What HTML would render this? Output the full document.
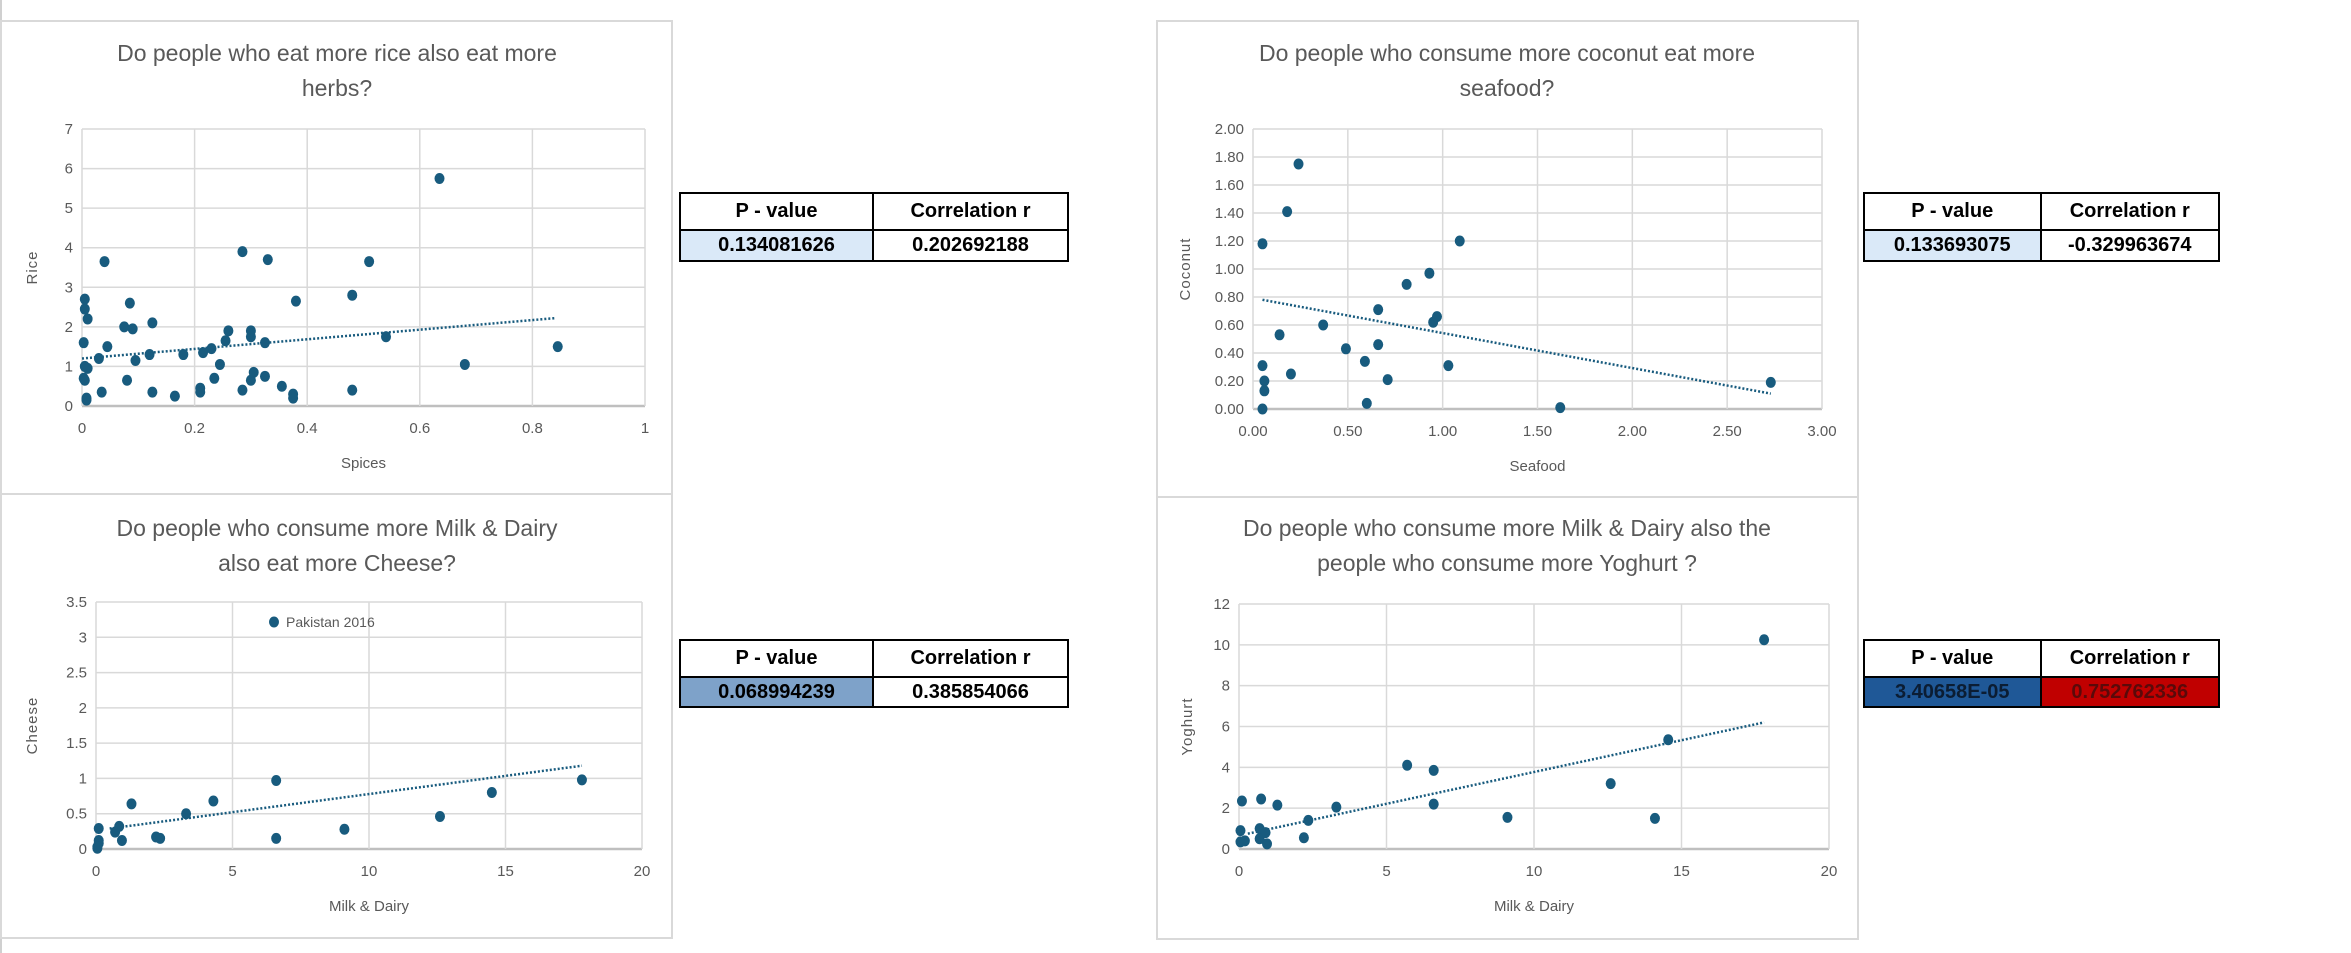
<!DOCTYPE html>
<html><head><meta charset="utf-8">
<style>
html,body{margin:0;padding:0;background:#fff;width:2351px;height:953px;overflow:hidden;font-family:"Liberation Sans",sans-serif;}
#root{position:relative;width:2351px;height:953px;}
svg{position:absolute;left:0;top:0;}
.tbl{position:absolute;border:2px solid #000;box-sizing:border-box;display:grid;grid-template-columns:50% 50%;font-weight:bold;font-size:20px;color:#000;}
.tbl div{display:flex;align-items:center;justify-content:center;box-sizing:border-box;}
.h{border-bottom:2px solid #000;}
.l{border-right:2px solid #000;}
</style></head>
<body>
<div id="root">
<svg id="svg" width="2351" height="953"></svg>

<div class="tbl" style="left:679px;top:192px;width:390px;height:70px;grid-template-rows:37px 1fr;">
<div class="h l">P - value</div><div class="h">Correlation r</div>
<div class="l" style="background:#dae9f8">0.134081626</div><div>0.202692188</div>
</div>
<div class="tbl" style="left:1863px;top:192px;width:357px;height:70px;grid-template-rows:37px 1fr;">
<div class="h l">P - value</div><div class="h">Correlation r</div>
<div class="l" style="background:#dae9f8">0.133693075</div><div>-0.329963674</div>
</div>
<div class="tbl" style="left:679px;top:639px;width:390px;height:69px;grid-template-rows:37px 1fr;">
<div class="h l">P - value</div><div class="h">Correlation r</div>
<div class="l" style="background:#7ea2c9">0.068994239</div><div>0.385854066</div>
</div>
<div class="tbl" style="left:1863px;top:639px;width:357px;height:69px;grid-template-rows:37px 1fr;">
<div class="h l">P - value</div><div class="h">Correlation r</div>
<div class="l" style="background:#1f5897;color:#0b1d33">3.40658E-05</div><div style="background:#c00000;color:#5a0a0a">0.752762336</div>
</div>
</div>
<script>
// Chart 1: Rice vs Spices
const riceSpicesX=[0.04,0.005,0.005,0.01,0.003,0.045,0.03,0.005,0.01,0.003,0.005,0.008,0.008,0.035,0.08,0.075,0.085,0.09,0.095,0.12,0.125,0.125,0.165,0.18,0.21,0.21,0.215,0.23,0.235,0.245,0.255,0.26,0.285,0.285,0.3,0.3,0.3,0.305,0.325,0.325,0.33,0.355,0.375,0.375,0.38,0.48,0.48,0.51,0.54,0.635,0.68,0.845];
const riceSpicesY=[3.65,2.7,2.45,2.2,1.6,1.5,1.2,1.0,0.95,0.7,0.65,0.2,0.15,0.35,0.65,2.0,2.6,1.95,1.15,1.3,2.1,0.35,0.25,1.3,0.45,0.35,1.35,1.45,0.7,1.05,1.65,1.9,0.4,3.9,1.9,1.75,0.65,0.85,0.75,1.6,3.7,0.5,0.3,0.2,2.65,0.4,2.8,3.65,1.75,5.75,1.05,1.5];
const riceTrendX=[0,0.84];
const riceTrendY=[1.2,2.22];
const riceXTicks=["0","0.2","0.4","0.6","0.8","1"];
const riceYTicks=["0","1","2","3","4","5","6","7"];
// Chart 2: Coconut vs Seafood
const seafoodX=[0.05,0.18,0.24,0.14,0.37,0.2,0.05,0.06,0.06,0.05,0.49,0.59,0.6,0.66,0.66,0.71,0.81,0.93,0.95,0.97,1.03,1.09,1.62,2.73];
const coconutY=[1.18,1.41,1.75,0.53,0.6,0.25,0.31,0.2,0.13,0.0,0.43,0.34,0.04,0.71,0.46,0.21,0.89,0.97,0.62,0.66,0.31,1.2,0.01,0.19];
const coconutTrendX=[0.05,2.73];
const coconutTrendY=[0.78,0.11];
const seafoodXTicks=["0.00","0.50","1.00","1.50","2.00","2.50","3.00"];
const coconutYTicks=["0.00","0.20","0.40","0.60","0.80","1.00","1.20","1.40","1.60","1.80","2.00"];
// Chart 3: Cheese vs Milk & Dairy
const milkX3=[0.1,0.1,0.1,0.05,0.05,0.7,0.85,0.95,1.3,2.2,2.35,3.3,4.3,6.6,6.6,9.1,12.6,14.5,17.8];
const cheeseY=[0.29,0.12,0.08,0.03,0.01,0.24,0.32,0.12,0.64,0.17,0.15,0.5,0.68,0.97,0.15,0.28,0.46,0.8,0.98];
const cheeseTrendX=[0.5,17.8];
const cheeseTrendY=[0.29,1.18];
const milkXTicks=["0","5","10","15","20"];
const cheeseYTicks=["0","0.5","1","1.5","2","2.5","3","3.5"];
// Chart 4: Yoghurt vs Milk & Dairy
const milkX4=[0.1,0.05,0.05,0.2,0.75,0.7,0.7,0.9,0.95,1.3,2.2,2.35,3.3,5.7,6.6,6.6,9.1,12.6,14.1,14.55,17.8];
const yoghurtY=[2.35,0.9,0.35,0.4,2.45,1.0,0.5,0.8,0.25,2.15,0.55,1.4,2.05,4.1,3.85,2.2,1.55,3.2,1.5,5.35,10.25];
const yoghurtTrendX=[0.3,17.8];
const yoghurtTrendY=[0.75,6.2];
const yoghurtYTicks=["0","2","4","6","8","10","12"];

const NS="http://www.w3.org/2000/svg";
const svg=document.getElementById('svg');
function mk(tag,attrs,parent){const e=document.createElementNS(NS,tag);for(const k in attrs)e.setAttribute(k,attrs[k]);(parent||svg).appendChild(e);return e;}

const edge=mk('line',{x1:1,y1:0,x2:1,y2:953,stroke:'#d0d0d0','stroke-width':2});



function chart(c){
  const g=mk('g',{});
  
  
  const box=mk('rect',{x:c.box[0],y:c.box[1],width:c.box[2],height:c.box[3],fill:'#fff',stroke:'#d9d9d9','stroke-width':2},g);
  
  
  c.title.forEach((t,i)=>{
    const tt=mk('text',{x:c.box[0]+c.tcx,y:c.ty+i*35,'text-anchor':'middle','font-size':23,fill:'#595959','font-family':'Liberation Sans, sans-serif'},g);
    tt.textContent=t;
    
    
  });
  const [L,T,R,B]=c.plot;
  const xmax=c.xmax, ymax=c.ymax;
  const sx=v=>L+(R-L)*v/xmax, sy=v=>B-(B-T)*v/ymax;
  c.yTicks.forEach(lbl=>{
    const v=parseFloat(lbl);
    const gl=mk('line',{x1:L,x2:R,y1:sy(v),y2:sy(v),stroke:v===0?'#bfbfbf':'#d9d9d9','stroke-width':v===0?2.5:1.5},g);
    
    
    const t=mk('text',{x:L-9,y:sy(v)+5,'text-anchor':'end','font-size':15,fill:'#595959'},g);
    t.textContent=lbl;
    
    
  });
  c.xTicks.forEach(lbl=>{
    const v=parseFloat(lbl);
    const gl=mk('line',{x1:sx(v),x2:sx(v),y1:T,y2:B,stroke:'#d9d9d9','stroke-width':1.5},g);
    
    
    const t=mk('text',{x:sx(v),y:B+27,'text-anchor':'middle','font-size':15,fill:'#595959'},g);
    t.textContent=lbl;
    
    
  });
  const xt=mk('text',{x:(L+R)/2,y:B+62,'text-anchor':'middle','font-size':15,fill:'#595959'},g);
  xt.textContent=c.xTitle;
  
  
  const yx=c.yTitleX, yy=(T+B)/2;
  const yt=mk('text',{x:yx,y:yy,'text-anchor':'middle','font-size':15,fill:'#595959',transform:`rotate(-90 ${yx} ${yy})`,'letter-spacing':1},g);
  yt.textContent=c.yTitle;
  
  
  const tl=mk('line',{x1:sx(c.tx[0]),y1:sy(c.ty2[0]),x2:sx(c.tx[1]),y2:sy(c.ty2[1]),stroke:'#185b7e','stroke-width':2.5,'stroke-dasharray':'2 2'},g);
  
  
  const xs=c.xs, ys=c.ys;
  for(let i=0;i<xs.length;i++){
    const p=mk('ellipse',{cx:sx(xs[i]),cy:sy(ys[i]),rx:5,ry:5.5,fill:'#185b7e'},g);
    
    
  }
  if(c.legend){
    const lp=mk('ellipse',{cx:c.legend[0],cy:c.legend[1],rx:5,ry:5.5,fill:'#185b7e'},g);
    
    
    const lt=mk('text',{x:c.legend[0]+12,y:c.legend[1]+5,'font-size':14,fill:'#595959'},g);
    lt.textContent='Pakistan 2016';
    
    
  }
}
chart({name:'rice-spices-chart',box:[1,21,671,480],tcx:336,ty:61,title:['Do people who eat more rice also eat more','herbs?'],
  plot:[82,129,645,406],xmax:1,ymax:7,xTicks:riceXTicks,yTicks:riceYTicks,xs:riceSpicesX,ys:riceSpicesY,tx:riceTrendX,ty2:riceTrendY,xTitle:'Spices',yTitle:'Rice',yTitleX:37});
chart({name:'coconut-seafood-chart',box:[1157,21,701,480],tcx:350,ty:61,title:['Do people who consume more coconut eat more','seafood?'],
  plot:[1253,129,1822,409],xmax:3,ymax:2,xTicks:seafoodXTicks,yTicks:coconutYTicks,xs:seafoodX,ys:coconutY,tx:coconutTrendX,ty2:coconutTrendY,xTitle:'Seafood',yTitle:'Coconut',yTitleX:1190});
chart({name:'cheese-milk-chart',box:[1,494,671,444],tcx:336,ty:536,title:['Do people who consume more Milk & Dairy','also eat more Cheese?'],
  plot:[96,602,642,849],xmax:20,ymax:3.5,xTicks:milkXTicks,yTicks:cheeseYTicks,xs:milkX3,ys:cheeseY,tx:cheeseTrendX,ty2:cheeseTrendY,xTitle:'Milk & Dairy',yTitle:'Cheese',yTitleX:37,legend:[274,622]});
chart({name:'yoghurt-milk-chart',box:[1157,497,701,442],tcx:350,ty:536,title:['Do people who consume more Milk & Dairy also the','people who consume more Yoghurt ?'],
  plot:[1239,604,1829,849],xmax:20,ymax:12,xTicks:milkXTicks,yTicks:yoghurtYTicks,xs:milkX4,ys:yoghurtY,tx:yoghurtTrendX,ty2:yoghurtTrendY,xTitle:'Milk & Dairy',yTitle:'Yoghurt',yTitleX:1192});
</script>
</body></html>
